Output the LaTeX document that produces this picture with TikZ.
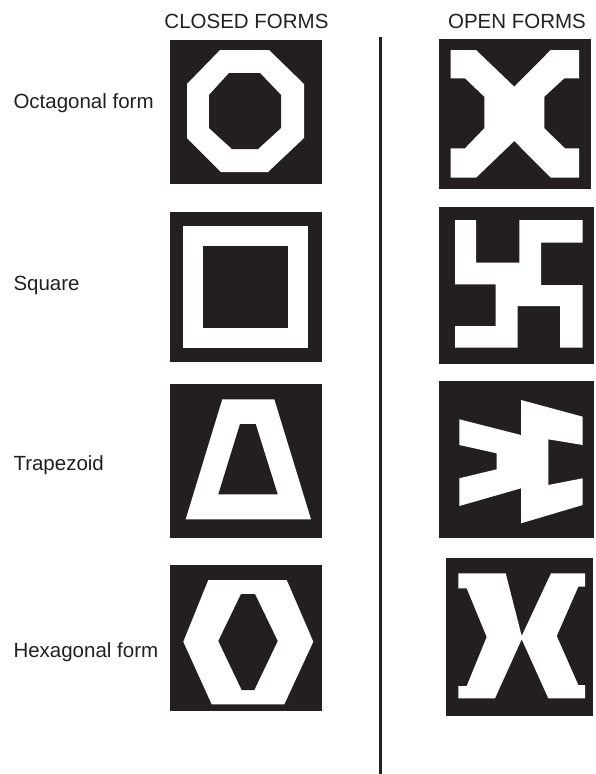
\documentclass[tikz,border=0pt]{standalone}
\usepackage{fontspec}
\setmainfont{Liberation Sans}
\definecolor{ink}{HTML}{231F20}
\begin{document}
\begin{tikzpicture}[x=1pt,y=-1pt,
  lbl/.style={inner sep=0pt,anchor=base west,font=\fontsize{20.5}{24}\selectfont,text=ink},
  hdr/.style={inner sep=0pt,anchor=base,font=\fontsize{20.5}{24}\selectfont,text=ink},
  box/.style={fill=ink},
  wht/.style={fill=white}]
\useasboundingbox (0,0) rectangle (596,774);
% headers
\node[hdr] (hclosed) at (246.5,28) {CLOSED FORMS};
\node[hdr] (hopen) at (517,28) {OPEN FORMS};
% labels
\node[lbl] (loct) at (13.3,108) {Octagonal form};
\node[lbl] (lsq) at (13.3,290) {Square};
\node[lbl] (ltrap) at (13.3,470) {Trapezoid};
\node[lbl] (lhex) at (13.3,657) {Hexagonal form};
% divider
\coordinate (dtop) at (380.7,37);
\coordinate (dbot) at (380.7,774);
\draw[ink,line width=2.6pt] (dtop) -- (dbot);
% box 1 octagon closed
\fill[box] (170,40) rectangle (322,184);
\fill[wht] (220,50) -- (269,50) -- (304,84) -- (304,138) -- (268,172) -- (221,172) -- (187,138) -- (187,84) -- cycle;
\fill[box] (229,73) -- (260,73) -- (281,95) -- (281,128) -- (258,149) -- (232,149) -- (209,128) -- (209,95) -- cycle;
% box 2 octagon open
\fill[box] (439.3,39) rectangle (591,189.3);
\fill[wht] (450.7,50) -- (476,50) -- (514.3,86.7) -- (550.7,50) -- (579,50) -- (579,78.3) -- (564.3,78.3)
  -- (544.3,96.7) -- (544.3,128.3) -- (565,148.3) -- (579,148.3) -- (579,177.7) -- (550.7,177.7)
  -- (514.3,141) -- (476,177.7) -- (450.7,177.7) -- (450.7,148.3) -- (465,148.3) -- (484.3,128.3)
  -- (484.3,96.7) -- (465,78.3) -- (450.7,78.3) -- cycle;
% box 3 square closed
\fill[box] (170,212.3) rectangle (322,362.3);
\fill[wht] (183.3,226) rectangle (307.7,347.7);
\fill[box] (202.7,245.7) rectangle (287.7,328.3);
% box 4 square open
\fill[box] (439.3,207.3) rectangle (594,364);
\fill[wht] (455,220) -- (476,220) -- (476,262.7) -- (519.3,262.7) -- (519.3,220) -- (582.7,220)
  -- (582.7,242.7) -- (541,242.7) -- (541,285) -- (582.7,285) -- (582.7,347.7) -- (560,347.7)
  -- (560,306) -- (517.7,306) -- (517.7,347.7) -- (455,347.7) -- (455,326) -- (495.7,326)
  -- (495.7,284.3) -- (455,284.3) -- cycle;
% box 5 trapezoid closed
\fill[box] (170,384.3) rectangle (322,537.7);
\fill[wht] (222.3,399.3) -- (274.3,399.3) -- (311,519.3) -- (185.7,519.3) -- cycle;
\fill[box] (240,424) -- (255.7,424) -- (277.7,494.3) -- (218.3,494.3) -- cycle;
% box 6 trapezoid open
\fill[box] (439.3,381) rectangle (594,537.7);
\fill[wht] (459.3,419.3) -- (521,435) -- (521,400) -- (582.7,416.7) -- (582.7,445) -- (548.3,439.3)
  -- (548.3,485) -- (582.7,478.3) -- (582.7,505) -- (521,523.3) -- (521,488.3) -- (459.3,506)
  -- (459.3,478.3) -- (496.7,469.3) -- (496.7,453.3) -- (459.3,445) -- cycle;
% box 7 hexagon closed
\fill[box] (170,565) rectangle (322,710.7);
\fill[wht] (208.3,580) -- (286.7,580) -- (313.3,641.7) -- (284.3,704.3) -- (211.7,704.3) -- (183.3,641.7) -- cycle;
\fill[box] (241,594) -- (255,594) -- (277.7,641) -- (254.3,690) -- (241.7,690) -- (218.3,641) -- cycle;
% box 8 hexagon open
\fill[box] (445.7,558.3) rectangle (593.3,715.7);
\fill[wht] (458.3,573.3) -- (505.7,573.3) -- (521.7,636) -- (551,573.3) -- (585,573.3) -- (585,586.7)
  -- (578.3,586.7) -- (556.7,636) -- (578.3,685) -- (585,685) -- (585,698.3) -- (548.3,698.3)
  -- (521.7,639.3) -- (495,698.3) -- (458.3,698.3) -- (458.3,686) -- (466.7,686) -- (486.7,637)
  -- (466.7,588.3) -- (458.3,588.3) -- cycle;
\end{tikzpicture}
\end{document}
